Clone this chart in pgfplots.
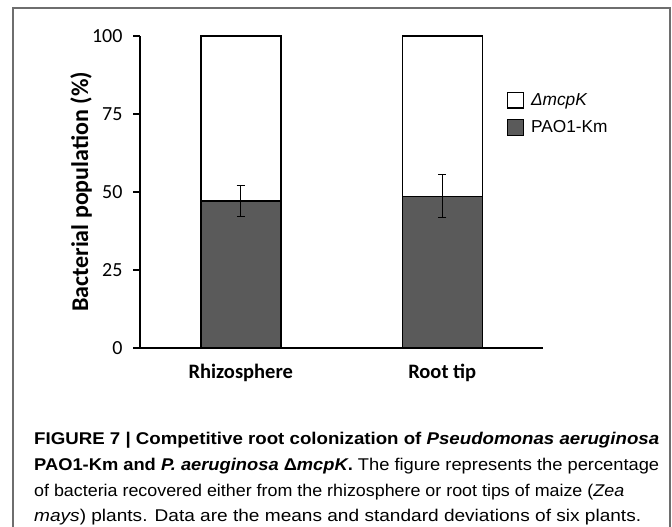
\documentclass[border=0pt]{standalone}
\usepackage{pgfplots}
\pgfplotsset{compat=1.18}
\usepackage{fontspec}
\usepackage{graphicx}
\setmainfont{Carlito}
\newfontfamily\arialfont{Liberation Sans}
\definecolor{darkbar}{HTML}{5A5A5A}
\definecolor{framec}{HTML}{6E6E6E}
\begin{document}
\begin{tikzpicture}[x=1pt,y=1pt]
\path[use as bounding box] (0,0) rectangle (672,527);
\clip (0,0) rectangle (672,527);
\fill[white] (0,0) rectangle (672,527);
\draw[framec, line width=1.2pt] (13,-10) -- (13,519) -- (670,519) -- (670,-10);
\begin{axis}[
  at={(140pt,179pt)}, anchor=south west,
  scale only axis, width=403pt, height=312pt,
  xmin=-0.5, xmax=1.5, ymin=0, ymax=100,
  axis x line=bottom, axis y line=left,
  axis line style={line width=1.3pt, -},
  ybar stacked, bar width=80pt,
  xtick={0,1}, xticklabels={Rhizosphere, Root tip},
  x tick label style={font=\bfseries\fontsize{20.5}{24}\selectfont, yshift=-6pt},
  major x tick style={draw=none},
  extra x ticks={-0.5,0.5,1.5}, extra x tick labels={},
  extra x tick style={major tick length=6pt, tick style={line width=1.3pt, black, draw=black}},
  ytick={0,25,50,75,100},
  y tick label style={font=\fontsize{20}{24}\selectfont, xshift=-7pt},
  /pgf/number format/assume math mode=true,
  tick align=outside,
  major tick length=7pt,
  tick style={line width=1.3pt, black},
  reverse legend,
  legend cell align=left,
  legend style={at={(0.9107,0.822)}, anchor=north west, draw=none, fill=none,
    inner sep=0pt, row sep=10.5pt,
    nodes={inner sep=0pt, font=\arialfont\fontsize{17.3}{20}\selectfont}},
  legend image code/.code={\draw[#1, line width=1.2pt] (0pt,-7.8pt) rectangle (15.6pt,7.8pt);},
]
\addplot[fill=darkbar, draw=black, line width=1.5pt,
  error bars/.cd, y dir=both, y explicit,
  error bar style={line width=1.1pt, black},
  error mark options={rotate=90, mark size=4.2pt, line width=1.1pt, black}]
  coordinates {(0,47.1) +- (0,5.0) (1,48.6) +- (0,6.9)};
\addlegendentry{\hspace{7pt}PAO1-Km}
\addplot[fill=white, draw=black, line width=1.5pt]
  coordinates {(0,52.9) (1,51.4)};
\addlegendentry{\hspace{7pt}\textit{ΔmcpK}}
\end{axis}
\node[rotate=90, font=\bfseries\fontsize{24}{28}\selectfont] at (81,335) {Bacterial population (\%)};
\begin{scope}[every node/.style={anchor=base west, inner sep=0pt, font=\arialfont\fontsize{17}{20}\selectfont}]
\node at (34,82) {\resizebox{625pt}{\height}{\textbf{FIGURE 7 | Competitive root colonization of \textit{Pseudomonas aeruginosa}}}};
\node at (34,56.3) {\resizebox{625pt}{\height}{\textbf{PAO1-Km and \textit{P. aeruginosa} Δ\textit{mcpK}.} The figure represents the percentage}};
\node at (34,30.7) {\resizebox{590pt}{\height}{of bacteria recovered either from the rhizosphere or root tips of maize (\textit{Zea}}};
\node at (34,5) {\resizebox{607pt}{\height}{\textit{mays}) plants. Data are the means and standard deviations of six plants.}};
\end{scope}
\end{tikzpicture}
\end{document}
